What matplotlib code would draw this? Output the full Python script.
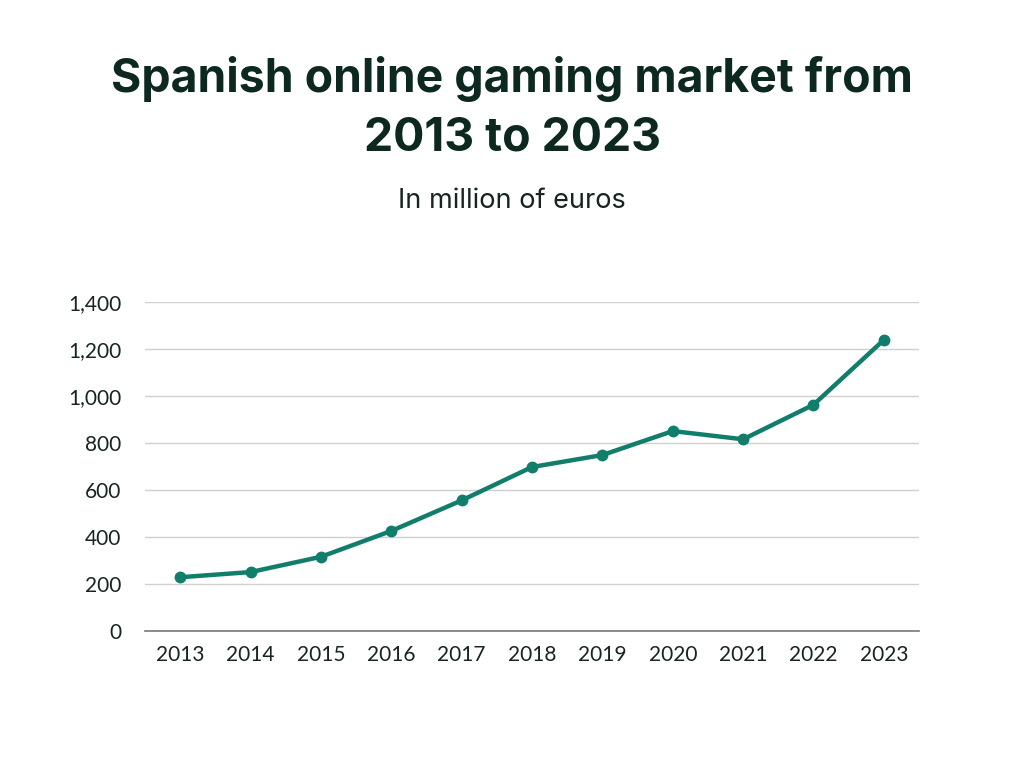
import matplotlib.pyplot as plt
from matplotlib.ticker import FuncFormatter

years = ['2013', '2014', '2015', '2016', '2017', '2018', '2019', '2020', '2021', '2022', '2023']
revenue = [230, 252, 317, 427, 557, 699, 750, 852, 817, 964, 1240]
y_ticks = [0, 200, 400, 600, 800, 1000, 1200, 1400]

plt.rcParams['font.family'] = ['Lato', 'DejaVu Sans']

fig = plt.figure(figsize=(10.24, 7.68), dpi=100)
ax = fig.add_axes([0.1416, 0.178, 0.7559, 0.4284])

ax.plot(range(len(years)), revenue, color='#117e6c', linewidth=3.2,
        marker='o', markersize=7.5, solid_capstyle='round', zorder=3)

ax.set_xlim(-0.5, len(years) - 0.5)
ax.set_ylim(0, 1400)
ax.set_xticks(range(len(years)))
ax.set_xticklabels(years)
ax.set_yticks(y_ticks)
ax.yaxis.set_major_formatter(FuncFormatter(lambda v, p: f'{int(v):,}'))

ax.grid(axis='y', color='#d0d0d0', linewidth=1)
ax.set_axisbelow(True)
for s in ['top', 'right', 'left']:
    ax.spines[s].set_visible(False)
ax.spines['bottom'].set_color('#777777')
ax.spines['bottom'].set_linewidth(1.2)
ax.tick_params(length=0, labelsize=15, colors='#16261f')
ax.tick_params(axis='y', pad=17)
ax.tick_params(axis='x', pad=10)

fig.text(0.5, 0.859, 'Spanish online gaming market from\n2013 to 2023', ha='center', va='center',
         fontsize=33.4, fontweight='bold', family=['Inter', 'DejaVu Sans'], color='#0d2820',
         linespacing=1.42)
fig.text(0.5, 0.738, 'In million of euros', ha='center', va='center',
         fontsize=19.5, family=['Inter', 'DejaVu Sans'], color='#16261f')

fig.savefig('out.png', dpi=100, facecolor='white')
